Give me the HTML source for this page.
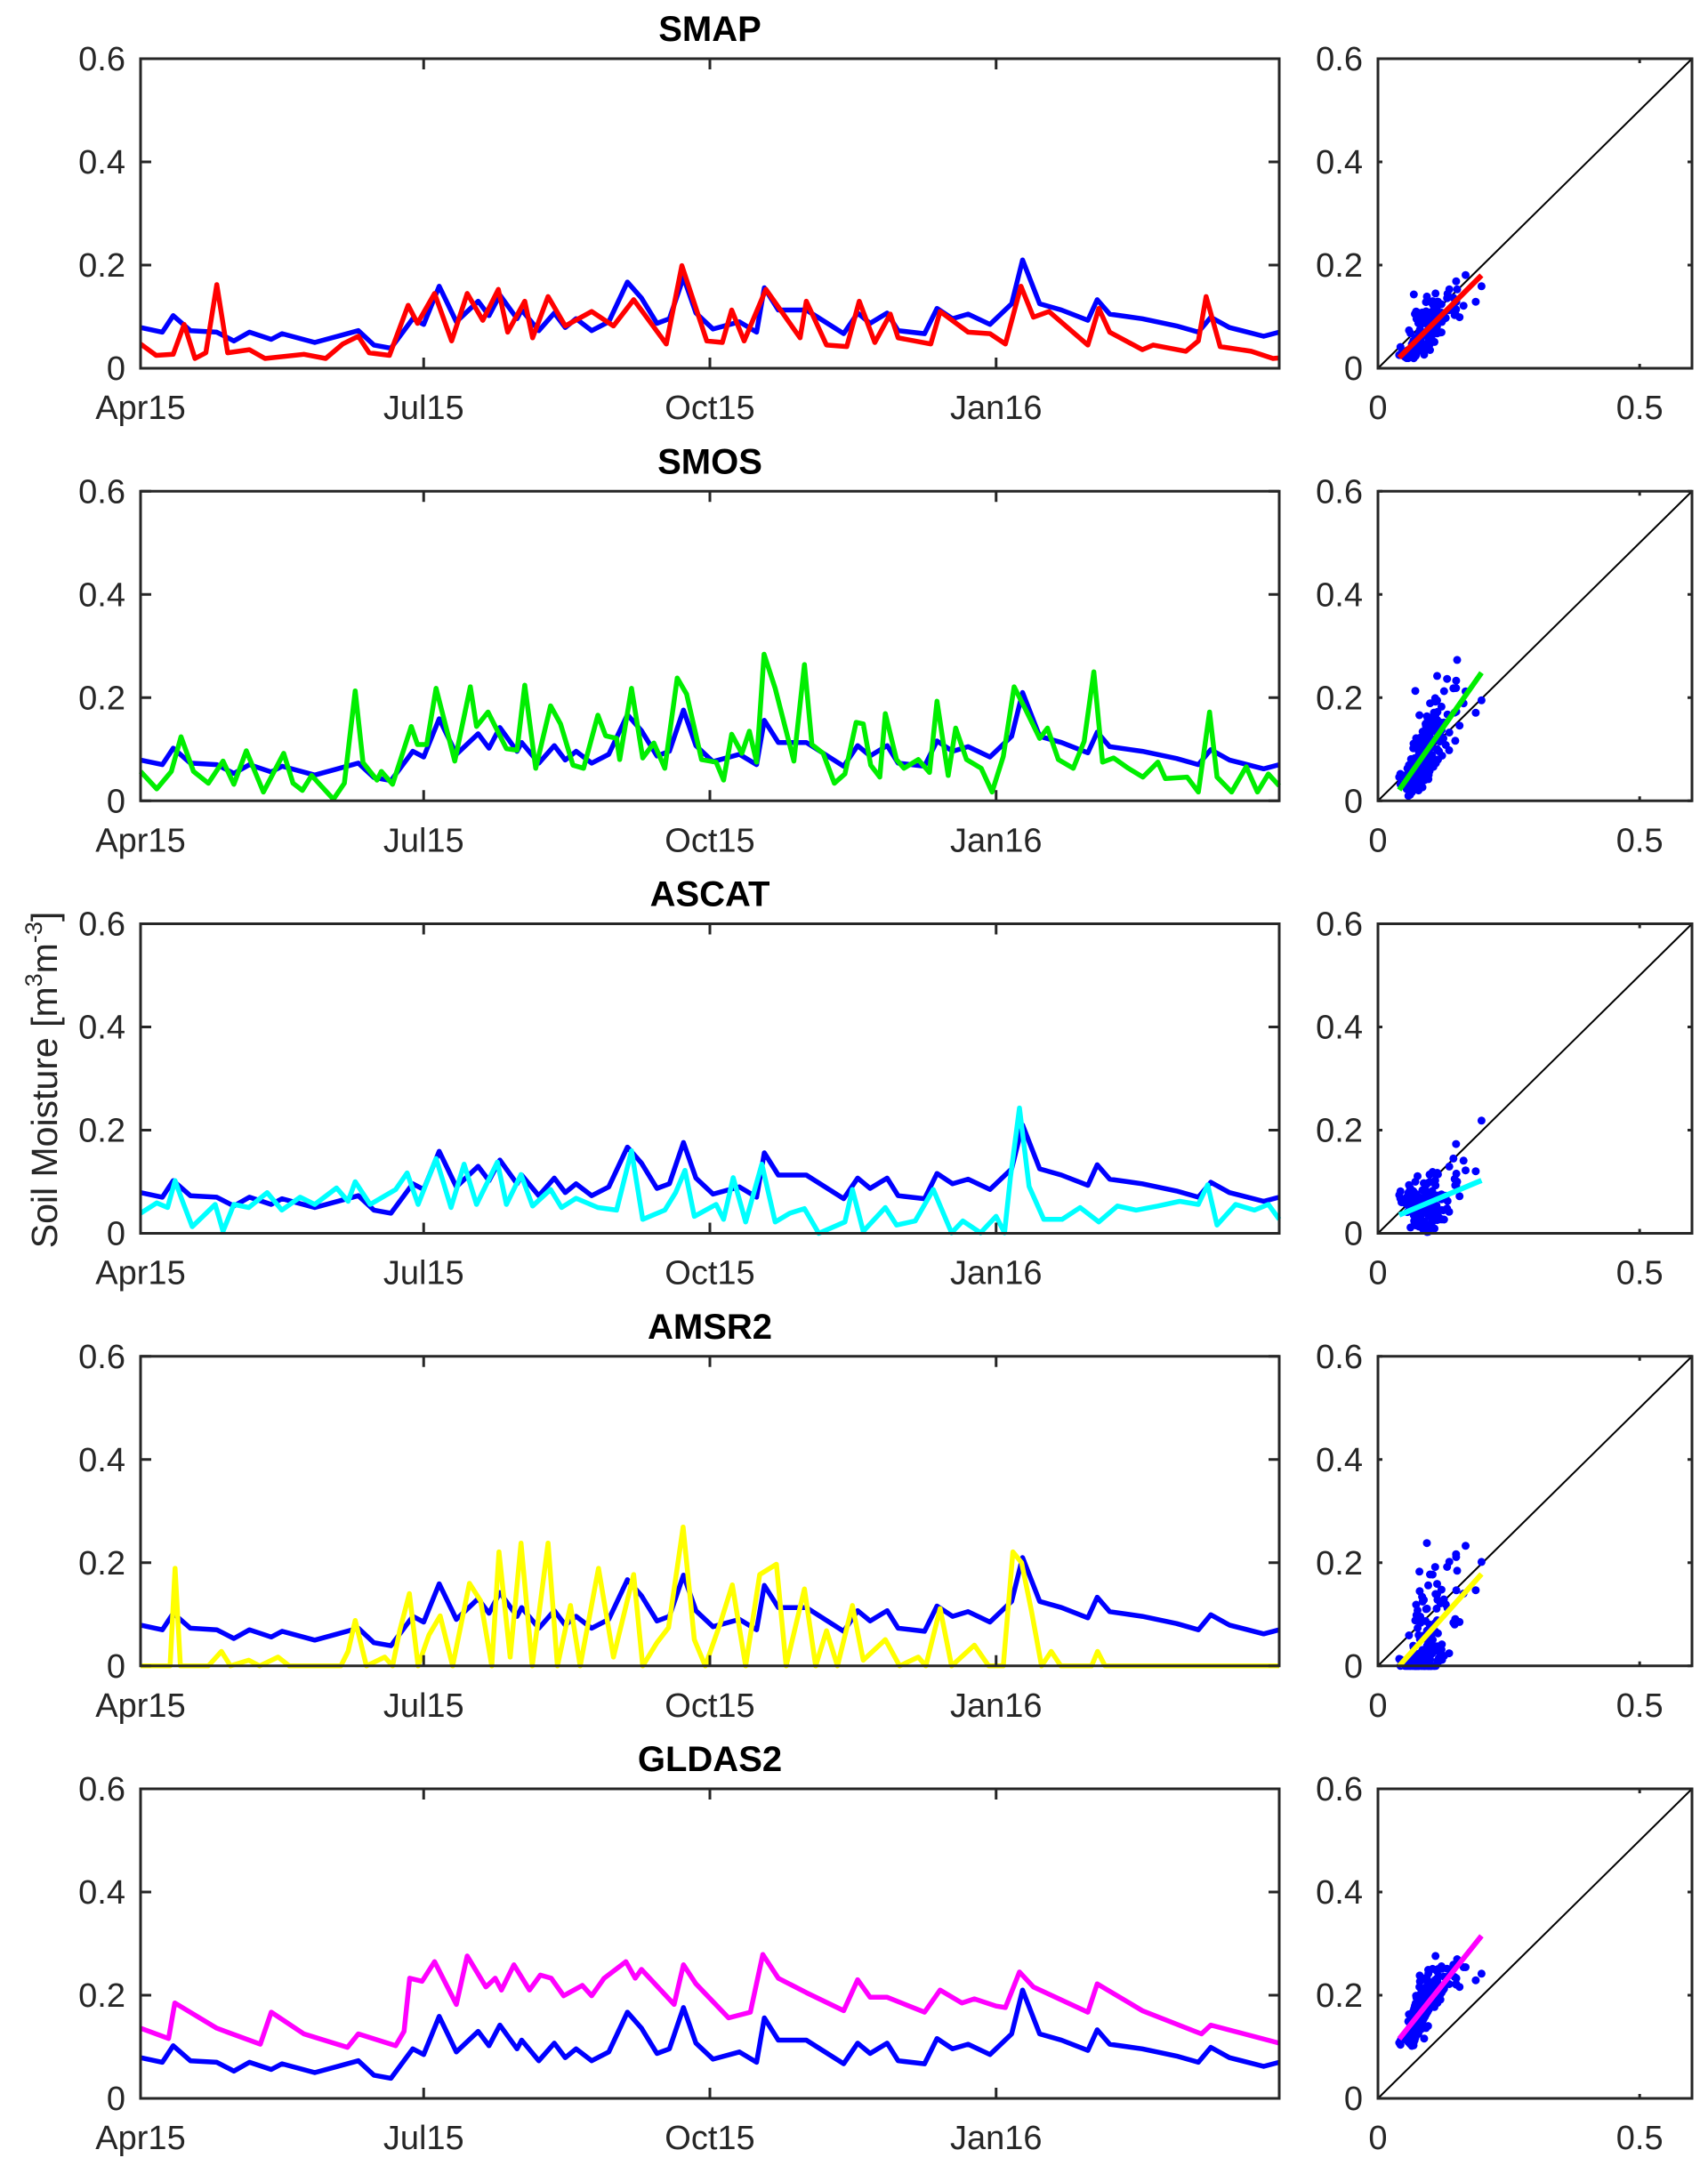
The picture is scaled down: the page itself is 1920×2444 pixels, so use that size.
<!DOCTYPE html>
<html><head><meta charset="utf-8"><style>
html,body{margin:0;padding:0;background:#fff;}
svg{display:block;font-family:"Liberation Sans",Arial,sans-serif;}
</style></head><body>
<svg id="fig" width="1920" height="2444" viewBox="0 0 1920 2444" xmlns="http://www.w3.org/2000/svg">
<rect width="1920" height="2444" fill="#fff"/>
<text transform="translate(64,1214) rotate(-90)" text-anchor="middle" font-size="41" fill="#262626">Soil Moisture [m<tspan font-size="27" dy="-17">3</tspan><tspan dy="17">m</tspan><tspan font-size="27" dy="-17">-3</tspan><tspan dy="17">]</tspan></text>
</svg>
<script>
// ---- data (day since 1 Apr 2015, soil moisture m3/m3) ----
const insituDays=[0,7,10.5,16,24.5,30,35,42,45.5,56,70,75,80.5,87.5,91,96,101.5,108.5,112,115.5,121,122.5,128,133,136.5,140,145,150.5,156.5,161,166,170,174.5,178.5,184,192.5,198,200.5,205,214,226,230.5,234.5,240,243.5,252,256,261,266,273,280,283.5,289,296,304.5,307.5,311.5,322,333,340,344,350,361,366];
const insituVals=[0.079,0.070,0.102,0.073,0.070,0.053,0.070,0.056,0.067,0.050,0.073,0.045,0.039,0.096,0.085,0.159,0.090,0.130,0.102,0.142,0.096,0.113,0.073,0.107,0.079,0.096,0.073,0.090,0.167,0.136,0.087,0.096,0.176,0.107,0.076,0.090,0.070,0.156,0.113,0.113,0.067,0.107,0.087,0.107,0.073,0.067,0.116,0.096,0.105,0.085,0.125,0.210,0.125,0.113,0.093,0.133,0.105,0.096,0.082,0.070,0.099,0.079,0.062,0.070];

const smapDays=[0,5,10.5,14,17.5,21,24.5,28,35,40,52.5,59.5,65,70,73.5,80,86,89,94.5,100,105,110,115,118,123.5,126,131,136.5,145,152,158.5,169,174,182,187,190,194,201,212,214,220.5,227,231,236,241,243.5,254,257,266,273,278,283,287,292,304.5,308,311.5,322,325.5,336,340,342.5,347,357,364,366];
const smapVals=[0.047,0.025,0.027,0.085,0.019,0.030,0.162,0.030,0.036,0.019,0.027,0.019,0.047,0.062,0.030,0.025,0.122,0.087,0.145,0.053,0.145,0.093,0.153,0.070,0.130,0.059,0.139,0.082,0.110,0.082,0.133,0.047,0.199,0.053,0.050,0.113,0.053,0.153,0.059,0.130,0.045,0.042,0.130,0.050,0.105,0.059,0.047,0.110,0.070,0.067,0.047,0.159,0.099,0.110,0.045,0.116,0.070,0.036,0.045,0.033,0.053,0.139,0.042,0.033,0.019,0.020];

const smosDays=[0,5.2,9.9,13,17,21.8,26.5,30,34,39.5,46,49,52,55,62,65.5,69,71.5,76,77.4,81,87,89,92,95,101,106,108,111.7,117.6,121,123.5,127,131.8,135,139,142.4,147,149.5,153,154,157.8,161.4,165,168.5,172.5,175.5,180.3,185,187.4,190,193.3,195.7,198,200.4,204,210,213.4,215.8,219.4,223,226.4,230,232.3,234.7,237.6,239.4,243,245.4,250,253.6,256,259.6,262,265.5,270.2,273.7,277.3,280.8,284.4,289,291.5,295,299.8,303.3,306.4,309.2,312.8,317.5,322.2,327,329.4,336.4,340,343.6,346,350.7,355.4,359,362.5,366];
const smosVals=[0.057,0.023,0.057,0.124,0.057,0.034,0.077,0.032,0.097,0.017,0.092,0.034,0.020,0.049,0.003,0.034,0.213,0.074,0.040,0.057,0.032,0.144,0.109,0.109,0.218,0.077,0.221,0.144,0.172,0.101,0.098,0.224,0.063,0.184,0.149,0.069,0.063,0.166,0.126,0.121,0.080,0.218,0.083,0.112,0.063,0.238,0.207,0.080,0.075,0.040,0.129,0.092,0.135,0.075,0.284,0.218,0.077,0.264,0.109,0.092,0.034,0.052,0.152,0.149,0.069,0.046,0.169,0.080,0.063,0.080,0.055,0.193,0.049,0.141,0.080,0.063,0.017,0.086,0.221,0.178,0.121,0.141,0.080,0.063,0.115,0.250,0.075,0.083,0.063,0.046,0.075,0.043,0.046,0.017,0.172,0.046,0.017,0.066,0.017,0.052,0.029];

const ascatDays=[0,5.2,8.7,11.1,13.5,16.6,20.6,24,26.5,30,34.8,40.7,45.4,51.3,56,63,66.7,69,73.8,82,85.7,89.2,95,99.8,104,108,114.7,117.6,122.3,126,131.8,135.3,140,147,153,157.8,161.4,168.5,172,175,178,185,187.4,190.5,194.5,199.7,204,208.7,213.4,218,226.4,228.8,232.3,239.4,243,249,254.8,260.7,264.3,270,275,277.7,279.6,282.5,285.6,290.3,296.2,302,308,314,320,327,334,340,343,346,352,358,362.5,366];
const ascatVals=[0.039,0.059,0.050,0.102,0.062,0.013,0.036,0.056,0.004,0.056,0.050,0.079,0.045,0.070,0.056,0.088,0.062,0.100,0.056,0.085,0.117,0.056,0.145,0.050,0.134,0.056,0.138,0.056,0.114,0.053,0.085,0.050,0.068,0.050,0.045,0.160,0.027,0.045,0.079,0.122,0.033,0.056,0.027,0.108,0.022,0.134,0.022,0.039,0.048,0.000,0.022,0.085,0.004,0.050,0.016,0.024,0.085,0.001,0.024,0.001,0.033,0.001,0.108,0.243,0.091,0.027,0.027,0.050,0.022,0.053,0.045,0.053,0.062,0.056,0.094,0.016,0.056,0.045,0.056,0.027];

const amsrDays=[0,9.5,11.1,12.8,21.8,26,28.9,34.8,38.3,44.2,47.8,64.4,66.7,69,72.6,78.5,81,83.3,86.4,89.2,92.7,96.3,100.3,105.7,109.3,112.9,115.2,118.8,122.3,125.9,131,134,138.2,141.3,147.2,152,158.5,161.4,166,169.7,174.4,178,181.5,186.2,190.2,194.5,199,204.4,207.5,213.4,217,220.5,224,228.8,232.3,239.4,244,250,252.4,257,260.7,268,272.6,277.3,280.4,283.2,286.3,289.6,292.7,295.8,305.7,307.6,310,366];
const amsrVals=[0,0,0.189,0,0,0.028,0,0.011,0,0.017,0,0,0.028,0.088,0,0.017,0,0.068,0.140,0,0.060,0.097,0,0.160,0.126,0,0.221,0.017,0.238,0,0.238,0,0.117,0,0.189,0.017,0.177,0,0.045,0.074,0.269,0.051,0,0.080,0.157,0,0.177,0.197,0,0.149,0,0.068,0,0.117,0.011,0.051,0,0.017,0,0.111,0,0.040,0,0,0.221,0.200,0.108,0,0.028,0,0,0.028,0,0];

const gldasDays=[0,9,11,24.5,38.5,42,52.5,66.5,70,82,84.7,86.5,90.5,94.5,101.5,105,111,114,116,120,125,128.5,132,136,142,145,149,156,159,161,171.5,174.5,178.5,189,196,200,205,214,226,230.5,234.5,240,252,257,264,268,275,278,282.5,287,304.5,307.5,322,341,344,366];
const gldasVals=[0.136,0.116,0.185,0.136,0.105,0.167,0.125,0.099,0.125,0.102,0.130,0.233,0.227,0.265,0.182,0.276,0.216,0.233,0.210,0.259,0.210,0.239,0.233,0.199,0.219,0.199,0.233,0.265,0.233,0.250,0.182,0.259,0.222,0.156,0.167,0.279,0.233,0.205,0.170,0.230,0.196,0.196,0.167,0.210,0.185,0.193,0.179,0.176,0.245,0.216,0.167,0.222,0.170,0.125,0.142,0.107];

const dateTickDays=[0,91,183,275];
const dateTickLabels=["Apr15","Jul15","Oct15","Jan16"];
const yTickVals=[0,0.2,0.4,0.6];
const yTickLabels=["0","0.2","0.4","0.6"];
const scatterXTickVals=[0,0.5];
const scatterXTickLabels=["0","0.5"];

const panelTitles=["SMAP","SMOS","ASCAT","AMSR2","GLDAS2"];
const panelColors=["#ff0000","#00ee00","#00ffff","#ffff00","#ff00ff"];
const panelDays=[smapDays,smosDays,ascatDays,amsrDays,gldasDays];
const panelVals=[smapVals,smosVals,ascatVals,amsrVals,gldasVals];

// ---- layout ----
const NS="http://www.w3.org/2000/svg";
const svg=document.getElementById('fig');
const L=158,R=1438,SL=1549,SR=1902,PH=348,DAYMAX=366,VMAX=0.6;
const panelTop=i=>66+i*486.25;
const xDay=d=>L+(d/DAYMAX)*(R-L);
function mk(tag,attrs,parent){const e=document.createElementNS(NS,tag);for(const k in attrs)e.setAttribute(k,attrs[k]);(parent||svg).appendChild(e);return e;}
function interp(ds,vs,d){if(d<=ds[0])return vs[0];for(let i=1;i<ds.length;i++){if(d<=ds[i]){const t=(d-ds[i-1])/(ds[i]-ds[i-1]);return vs[i-1]+t*(vs[i]-vs[i-1]);}}return vs[vs.length-1];}
const AX="#262626";
const TFS=38;

for(let p=0;p<5;p++){
  const top=panelTop(p),bot=top+PH;
  const yV=v=>bot-(v/VMAX)*PH;
  const g=mk('g',{});
  
  
  const t=mk('text',{x:(L+R)/2,y:top-20,'text-anchor':'middle','font-size':40,'font-weight':'bold',fill:'#000'},g);
  t.textContent=panelTitles[p];
  
  
  const lineFor=(ds,vs,color,name,w)=>{
    let d='';for(let i=0;i<ds.length;i++){d+=(i?'L':'M')+xDay(ds[i]).toFixed(1)+','+yV(vs[i]).toFixed(1);}
    const pth=mk('path',{d:d,fill:'none',stroke:color,'stroke-width':w,'stroke-linejoin':'round'},g);
    
    
  };
  if(p===4){lineFor(panelDays[p],panelVals[p],panelColors[p],'product-series',5.5);lineFor(insituDays,insituVals,'#0000ff','insitu-series',5.5);}
  else{lineFor(insituDays,insituVals,'#0000ff','insitu-series',5.5);lineFor(panelDays[p],panelVals[p],panelColors[p],'product-series',5.5);}
  const fr=mk('rect',{x:L,y:top,width:R-L,height:PH,fill:'none',stroke:AX,'stroke-width':3},g);
  
  
  for(let i=0;i<yTickVals.length;i++){
    const y=yV(yTickVals[i]);
    mk('line',{x1:L,x2:L+12,y1:y,y2:y,stroke:AX,'stroke-width':3},g);
    mk('line',{x1:R-12,x2:R,y1:y,y2:y,stroke:AX,'stroke-width':3},g);
    const tl=mk('text',{x:141,y:y+13,'text-anchor':'end','font-size':TFS,fill:AX},g);
    tl.textContent=yTickLabels[i];
    
    
  }
  for(let i=0;i<dateTickDays.length;i++){
    const x=xDay(dateTickDays[i]);
    mk('line',{x1:x,x2:x,y1:bot,y2:bot-12,stroke:AX,'stroke-width':3},g);
    mk('line',{x1:x,x2:x,y1:top,y2:top+12,stroke:AX,'stroke-width':3},g);
    const tl=mk('text',{x:x,y:bot+57,'text-anchor':'middle','font-size':TFS,fill:AX},g);
    tl.textContent=dateTickLabels[i];
    
    
  }
  const sx=v=>SL+(v/VMAX)*(SR-SL);
  const sg=mk('g',{});
  
  
  mk('line',{x1:sx(0),y1:yV(0),x2:sx(0.6),y2:yV(0.6),stroke:'#000','stroke-width':2},sg);
  const xs=[],ys=[];
  for(let d=1;d<DAYMAX;d+=2){xs.push(interp(insituDays,insituVals,d));ys.push(interp(panelDays[p],panelVals[p],d));}
  for(let i=0;i<xs.length;i++){
    const c=mk('circle',{cx:sx(xs[i]).toFixed(1),cy:yV(ys[i]).toFixed(1),r:4.5,fill:'#0000ff'},sg);
    
    
  }
  const n=xs.length,mx=xs.reduce((a,b)=>a+b)/n,my=ys.reduce((a,b)=>a+b)/n;
  let sxy=0,sxx=0;for(let i=0;i<n;i++){sxy+=(xs[i]-mx)*(ys[i]-my);sxx+=(xs[i]-mx)*(xs[i]-mx);}
  const b=sxy/sxx,a=my-b*mx,x0=Math.min(...xs),x1=Math.max(...xs);
  const fit=mk('line',{x1:sx(x0),y1:yV(Math.max(0,a+b*x0)),x2:sx(x1),y2:yV(a+b*x1),stroke:panelColors[p],'stroke-width':6},sg);
  
  
  const sf=mk('rect',{x:SL,y:top,width:SR-SL,height:PH,fill:'none',stroke:AX,'stroke-width':3},sg);
  
  
  for(let i=0;i<yTickVals.length;i++){
    const y=yV(yTickVals[i]);
    mk('line',{x1:SL,x2:SL+5,y1:y,y2:y,stroke:AX,'stroke-width':3},sg);
    mk('line',{x1:SR-5,x2:SR,y1:y,y2:y,stroke:AX,'stroke-width':3},sg);
    const tl=mk('text',{x:1532,y:y+13,'text-anchor':'end','font-size':TFS,fill:AX},sg);
    tl.textContent=yTickLabels[i];
    
    
  }
  for(let i=0;i<scatterXTickVals.length;i++){
    const x=sx(scatterXTickVals[i]);
    mk('line',{x1:x,x2:x,y1:bot,y2:bot-5,stroke:AX,'stroke-width':3},sg);
    mk('line',{x1:x,x2:x,y1:top,y2:top+5,stroke:AX,'stroke-width':3},sg);
    const tl=mk('text',{x:x,y:bot+57,'text-anchor':'middle','font-size':TFS,fill:AX},sg);
    tl.textContent=scatterXTickLabels[i];
    
    
  }
}
</script>
</body></html>
